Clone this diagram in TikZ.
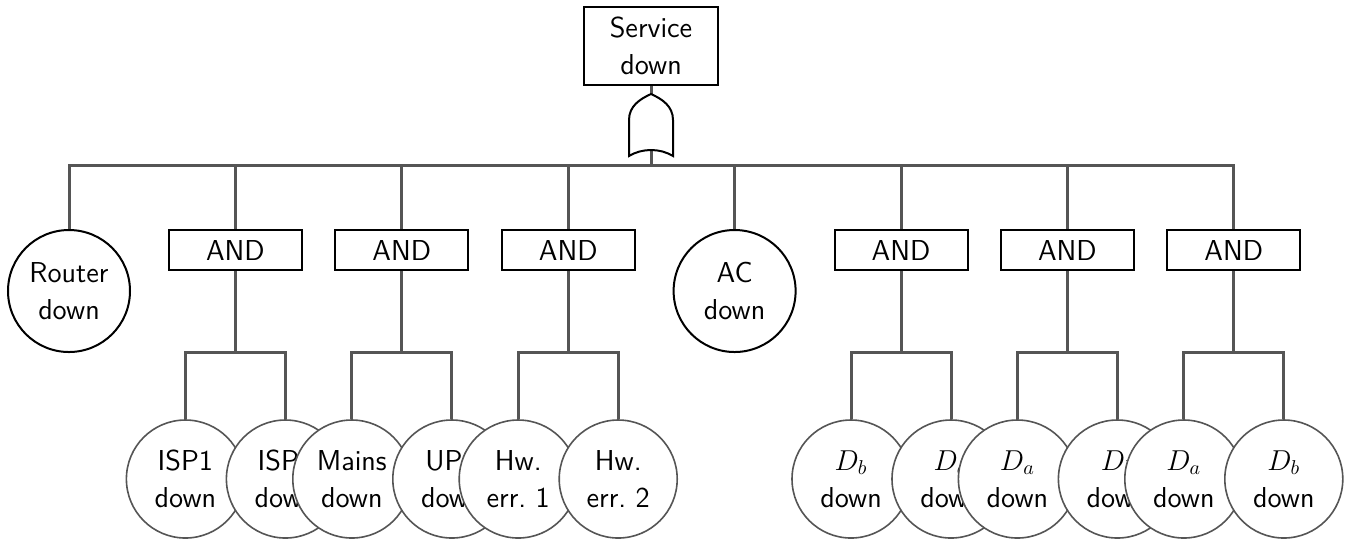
\documentclass[tikz,border=0pt]{standalone}
\usepackage{tikz}
\definecolor{linegray}{HTML}{555555}
\begin{document}
\begin{tikzpicture}[x=0.5pt,y=-0.5pt,
  font=\sffamily\fontsize{14.4}{18.5}\selectfont,
  gatebox/.style={draw=black, line width=1pt, fill=white, minimum width=66.5pt, minimum height=20pt, inner sep=0pt},
  topbox/.style={draw=black, line width=1pt, fill=white, minimum width=67pt, minimum height=39pt, inner sep=0pt, align=center},
  evt/.style={circle, draw=black, line width=1pt, fill=white, minimum size=61pt, inner sep=0pt, align=center},
  basic/.style={circle, draw=linegray, line width=0.8pt, fill=white, minimum size=59pt, inner sep=0pt, align=center},
  conn/.style={draw=linegray, line width=1.5pt},
  orgate/.style={draw=black, line width=1pt, fill=white}]
\useasboundingbox (0,0) rectangle (1352,538);

% top event
\node[topbox] (top) at (651,46) {Service\\down};
\coordinate (ortop) at (651,94);
\coordinate (orbot) at (651,150);
\coordinate (bus) at (651,165);

% second level
\node[evt] (router) at (69,291) {Router\\down};
\node[gatebox] (and1) at (235.4,250) {AND};
\node[gatebox] (and2) at (401.8,250) {AND};
\node[gatebox] (and3) at (568.2,250) {AND};
\node[evt] (ac) at (734.6,291) {AC\\down};
\node[gatebox] (and4) at (901,250) {AND};
\node[gatebox] (and5) at (1067.4,250) {AND};
\node[gatebox] (and6) at (1233.8,250) {AND};

% junctions under AND gates
\coordinate (j1) at (235.4,352);
\coordinate (j2) at (401.8,352);
\coordinate (j3) at (568.2,352);
\coordinate (j4) at (901,352);
\coordinate (j5) at (1067.4,352);
\coordinate (j6) at (1233.8,352);

% basic events (drawn left to right, overlapping)
\node[basic] (isp1) at (185.4,479) {ISP1\\down};
\node[basic] (isp2) at (285.4,479) {ISP2\\down};
\node[basic] (mains) at (351.8,479) {Mains\\down};
\node[basic] (ups) at (451.8,479) {UPS\\down};
\node[basic] (hw1) at (518.2,479) {Hw.\\err.\ 1};
\node[basic] (hw2) at (618.2,479) {Hw.\\err.\ 2};
\node[basic] (d1) at (851,479) {$D_b$\\down};
\node[basic] (d2) at (951,479) {$D_a$\\down};
\node[basic] (d3) at (1017.4,479) {$D_a$\\down};
\node[basic] (d4) at (1117.4,479) {$D_b$\\down};
\node[basic] (d5) at (1183.8,479) {$D_a$\\down};
\node[basic] (d6) at (1283.8,479) {$D_b$\\down};

% connectors
\draw[conn] (top.south) -- (ortop);
\draw[conn] (orbot) -- (bus);
\foreach \n in {router,and1,and2,and3,ac,and4,and5,and6}
  \draw[conn] (bus) -| (\n.north);
\draw[conn] (and1.south) -- (j1);
\draw[conn] (and2.south) -- (j2);
\draw[conn] (and3.south) -- (j3);
\draw[conn] (and4.south) -- (j4);
\draw[conn] (and5.south) -- (j5);
\draw[conn] (and6.south) -- (j6);
\draw[conn] (j1) -| (isp1.north);
\draw[conn] (j1) -| (isp2.north);
\draw[conn] (j2) -| (mains.north);
\draw[conn] (j2) -| (ups.north);
\draw[conn] (j3) -| (hw1.north);
\draw[conn] (j3) -| (hw2.north);
\draw[conn] (j4) -| (d1.north);
\draw[conn] (j4) -| (d2.north);
\draw[conn] (j5) -| (d3.north);
\draw[conn] (j5) -| (d4.north);
\draw[conn] (j6) -| (d5.north);
\draw[conn] (j6) -| (d6.north);

% OR gate
\draw[orgate] (629,156) -- (629,120)
  .. controls (629,106) and (640,99) .. (ortop)
  .. controls (662,99) and (673,106) .. (673,120)
  -- (673,156)
  .. controls (660,148) and (642,148) .. (629,156) -- cycle;
\end{tikzpicture}
\end{document}
